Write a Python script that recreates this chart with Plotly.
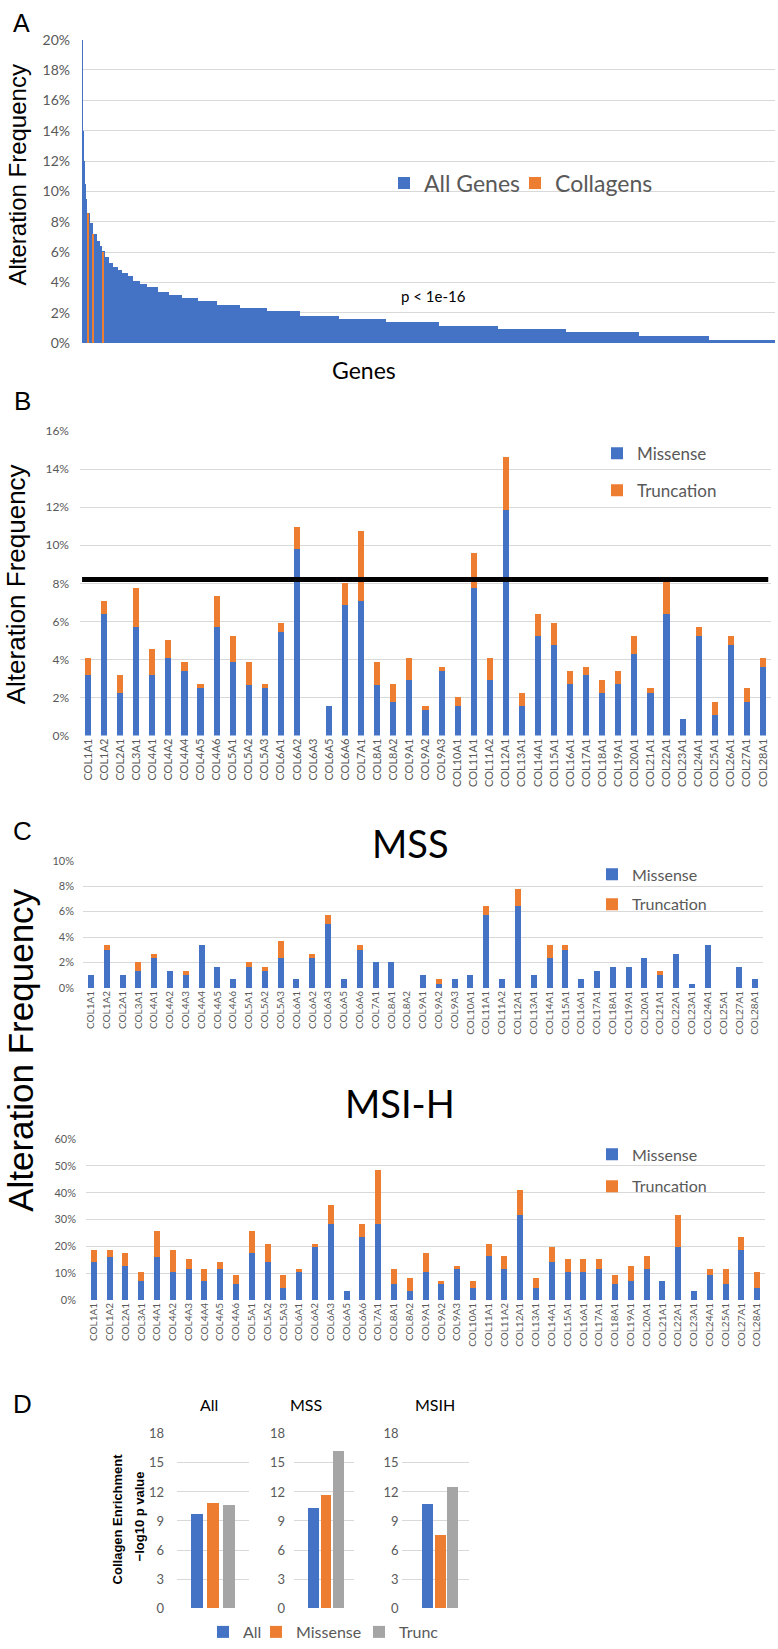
import plotly.graph_objects as go

W, H = 778, 1649
BLUE = "#4472C4"
ORANGE = "#ED7D31"
GRAY = "#A5A5A5"
GRID = "#D9D9D9"
TXT = "#595959"
TICKF = "Lato"
TITLEF = "Liberation Sans"

# ---------------- Panel A data (gene rank where each frequency level starts) ----------------
a_rank_start = [0, 10, 25, 40, 60, 90, 130, 200, 280, 400, 470, 520, 610, 715, 820, 935,
                1040, 1210, 1340, 1520, 1700, 1990, 2275, 2600, 3030, 3520, 4120, 4830,
                5690, 6690, 7930, 9320, 10850, 12620, 14520, 16350]
a_freq = [20.0, 16.0, 14.0, 12.0, 10.5, 9.5, 8.6, 7.9, 7.2, 6.7, 6.4, 6.1, 5.7, 5.3, 5.0, 4.8,
          4.6, 4.4, 4.1, 3.9, 3.7, 3.4, 3.2, 3.0, 2.8, 2.5, 2.3, 2.1,
          1.8, 1.6, 1.4, 1.1, 0.9, 0.7, 0.5, 0.2]
a_total_genes = 18070
collagen_rank = [138, 282, 527]
collagen_freq = [8.6, 7.2, 6.0]

# ---------------- Panel B data ----------------
genes_b = ["COL1A1", "COL1A2", "COL2A1", "COL3A1", "COL4A1", "COL4A2", "COL4A4", "COL4A5",
           "COL4A6", "COL5A1", "COL5A2", "COL5A3", "COL6A1", "COL6A2", "COL6A3", "COL6A5",
           "COL6A6", "COL7A1", "COL8A1", "COL8A2", "COL9A1", "COL9A2", "COL9A3", "COL10A1",
           "COL11A1", "COL11A2", "COL12A1", "COL13A1", "COL14A1", "COL15A1", "COL16A1",
           "COL17A1", "COL18A1", "COL19A1", "COL20A1", "COL21A1", "COL22A1", "COL23A1",
           "COL24A1", "COL25A1", "COL26A1", "COL27A1", "COL28A1"]
b_missense = [3.2, 6.37, 2.25, 5.68, 3.17, 4.07, 3.38, 2.48, 5.68, 3.84, 2.68, 2.48, 5.45,
              9.82, 0, 1.56, 6.84, 7.06, 2.68, 1.78, 2.94, 1.33, 3.38, 1.56, 7.76, 2.94,
              11.86, 1.56, 5.23, 4.78, 2.72, 3.17, 2.25, 2.72, 4.31, 2.25, 6.37, 0.87,
              5.23, 1.09, 4.78, 1.78, 3.62]
b_truncation = [0.89, 0.69, 0.92, 2.08, 1.37, 0.93, 0.46, 0.24, 1.63, 1.39, 1.16, 0.24, 0.47,
                1.14, 0, 0, 1.16, 3.68, 1.16, 0.94, 1.15, 0.23, 0.24, 0.47, 1.82, 1.15,
                2.77, 0.69, 1.16, 1.14, 0.69, 0.45, 0.69, 0.69, 0.92, 0.23, 1.73, 0,
                0.47, 0.69, 0.45, 0.73, 0.47]
b_threshold = 8.2

# ---------------- Panel C data ----------------
genes_c = ["COL1A1", "COL1A2", "COL2A1", "COL3A1", "COL4A1", "COL4A2", "COL4A3", "COL4A4",
           "COL4A5", "COL4A6", "COL5A1", "COL5A2", "COL5A3", "COL6A1", "COL6A2", "COL6A3",
           "COL6A5", "COL6A6", "COL7A1", "COL8A1", "COL8A2", "COL9A1", "COL9A2", "COL9A3",
           "COL10A1", "COL11A1", "COL11A2", "COL12A1", "COL13A1", "COL14A1", "COL15A1",
           "COL16A1", "COL17A1", "COL18A1", "COL19A1", "COL20A1", "COL21A1", "COL22A1",
           "COL23A1", "COL24A1", "COL25A1", "COL27A1", "COL28A1"]
mss_missense = [1.01, 3.0, 1.01, 1.35, 2.36, 1.35, 1.01, 3.37, 1.68, 0.67, 1.68, 1.35, 2.36,
                0.67, 2.36, 5.06, 0.67, 3.0, 2.02, 2.02, 0, 1.01, 0.33, 0.67, 1.01, 5.76,
                0.67, 6.43, 1.01, 2.36, 3.0, 0.67, 1.35, 1.68, 1.68, 2.36, 1.01, 2.69,
                0.33, 3.37, 0, 1.68, 0.67]
mss_truncation = [0, 0.37, 0, 0.67, 0.33, 0, 0.34, 0, 0, 0, 0.34, 0.33, 1.34, 0, 0.33, 0.70,
                  0, 0.37, 0, 0, 0, 0, 0.34, 0, 0, 0.67, 0, 1.38, 0, 1.01, 0.37, 0, 0, 0,
                  0, 0, 0.34, 0, 0, 0, 0, 0, 0]
msih_missense = [14.0, 16.2, 12.8, 6.9, 16.2, 10.5, 11.7, 6.9, 11.7, 5.8, 17.5, 14.0, 4.5,
                 10.5, 19.9, 28.2, 3.4, 23.4, 28.2, 5.8, 3.4, 10.5, 5.8, 11.7, 4.5, 16.3,
                 11.7, 31.7, 4.5, 14.0, 10.5, 10.5, 11.7, 5.8, 7.0, 11.7, 7.0, 19.9, 3.4,
                 9.3, 5.8, 18.7, 4.5]
msih_truncation = [4.7, 2.5, 4.8, 3.7, 9.6, 8.2, 3.5, 4.8, 2.3, 3.5, 8.3, 7.0, 4.8, 1.2, 1.1,
                   7.1, 0, 4.8, 20.1, 5.9, 4.7, 7.1, 1.2, 1.1, 2.5, 4.6, 4.6, 9.5, 3.6, 5.9,
                   4.7, 4.7, 3.5, 3.5, 5.8, 4.6, 0, 11.8, 0, 2.4, 5.9, 4.7, 6.1]

# ---------------- Panel D data ----------------
d_groups = ["All", "MSS", "MSIH"]
d_series = ["All", "Missense", "Trunc"]
d_all = [9.75, 10.3, 10.8]
d_missense = [10.9, 11.7, 7.6]
d_trunc = [10.6, 16.2, 12.55]


def fx(px):
    return px / W


def fy(py):
    return 1 - py / H


fig = go.Figure()

# ---- A ----
a_widths = [a_rank_start[i + 1] - a_rank_start[i] for i in range(len(a_rank_start) - 1)]
a_widths.append(a_total_genes - a_rank_start[-1])
fig.add_trace(go.Bar(x=a_rank_start, y=a_freq, width=a_widths, offset=0, name="All Genes",
                     marker=dict(color=BLUE, line=dict(width=0)), legendwidth=86,
                     xaxis="x", yaxis="y", legend="legend"))
fig.add_trace(go.Bar(x=collagen_rank, y=collagen_freq, width=35, offset=0, name="Collagens",
                     marker=dict(color=ORANGE, line=dict(width=0)),
                     xaxis="x", yaxis="y", legend="legend"))

# ---- B ----
fig.add_trace(go.Bar(x=genes_b, y=b_missense, name="Missense", marker=dict(color=BLUE, line=dict(width=0)),
                     xaxis="x2", yaxis="y2", legend="legend2", legendgroup="b1"))
fig.add_trace(go.Bar(x=genes_b, y=b_truncation, name="Truncation", marker=dict(color=ORANGE, line=dict(width=0)),
                     xaxis="x2", yaxis="y2", legend="legend2", legendgroup="b2"))

# ---- C MSS ----
fig.add_trace(go.Bar(x=genes_c, y=mss_missense, name="Missense", marker=dict(color=BLUE, line=dict(width=0)),
                     xaxis="x3", yaxis="y3", legend="legend3", legendgroup="c1"))
fig.add_trace(go.Bar(x=genes_c, y=mss_truncation, name="Truncation", marker=dict(color=ORANGE, line=dict(width=0)),
                     xaxis="x3", yaxis="y3", legend="legend3", legendgroup="c2"))

# ---- C MSI-H ----
fig.add_trace(go.Bar(x=genes_c, y=msih_missense, name="Missense", marker=dict(color=BLUE, line=dict(width=0)),
                     xaxis="x4", yaxis="y4", legend="legend4", legendgroup="m1"))
fig.add_trace(go.Bar(x=genes_c, y=msih_truncation, name="Truncation", marker=dict(color=ORANGE, line=dict(width=0)),
                     xaxis="x4", yaxis="y4", legend="legend4", legendgroup="m2"))

# ---- D ----
d_values = [d_all, d_missense, d_trunc]
d_colors = [BLUE, ORANGE, GRAY]
d_legw = [8, 58, None]
d_barw = [0.81, 0.84, 0.86]
for gi in range(len(d_groups)):
    for si, sname in enumerate(d_series):
        fig.add_trace(go.Bar(x=[si], y=[d_values[si][gi]], width=d_barw[gi], name=sname,
                             marker=dict(color=d_colors[si], line=dict(width=0)),
                             legendwidth=d_legw[si],
                             xaxis="x%d" % (5 + gi), yaxis="y%d" % (5 + gi),
                             legend="legend5", showlegend=(gi == 0)))


def yax(domain, rng, dtick, suffix, size, standoff, anchor):
    return dict(domain=domain, range=rng, dtick=dtick, ticksuffix=suffix,
                showgrid=True, gridcolor=GRID, gridwidth=1, zeroline=False, showline=False,
                ticks="", tickfont=dict(family=TICKF, size=size, color=TXT),
                ticklabelstandoff=standoff, anchor=anchor, fixedrange=True)


def xcat(domain, size, anchor):
    return dict(domain=domain, type="category", tickangle=-90, showgrid=False, zeroline=False,
                showline=False, ticks="", tickfont=dict(family=TICKF, size=size, color=TXT),
                anchor=anchor, fixedrange=True)


def xplain(domain, rng, anchor):
    return dict(domain=domain, range=rng, showticklabels=False, showgrid=False, zeroline=False,
                showline=False, ticks="", anchor=anchor, fixedrange=True)


layout = dict(
    width=W, height=H, autosize=False,
    margin=dict(l=0, r=0, t=0, b=0),
    paper_bgcolor="white", plot_bgcolor="white",
    barmode="stack", bargap=0.62,
    xaxis=xplain([fx(82), fx(775)], [0, a_total_genes], "y"),
    yaxis=yax([fy(338), fy(31)], [0, 20], 2, "%", 14, 11, "x"),
    xaxis2=xcat([fx(80), fx(771)], 11, "y2"),
    yaxis2=yax([fy(735), fy(427)], [0, 16], 2, "%", 12, 10, "x2"),
    xaxis3=xcat([fx(83), fx(763)], 10, "y3"),
    yaxis3=yax([fy(990.3), fy(861.7)], [0, 10], 2, "%", 11, 8, "x3"),
    xaxis4=xcat([fx(86), fx(765)], 10, "y4"),
    yaxis4=yax([fy(1306), fy(1143.3)], [0, 60], 10, "%", 11, 9, "x4"),
    xaxis5=xplain([fx(177), fx(249)], [-1.25, 3.25], "y5"),
    yaxis5=yax([fy(1617.7), fy(1441.5)], [0, 18], 3, "", 13, 12, "x5"),
    xaxis6=xplain([fx(294), fx(354)], [-1.54, 3.26], "y6"),
    yaxis6=yax([fy(1617.7), fy(1441.5)], [0, 18], 3, "", 13, 8, "x6"),
    xaxis7=xplain([fx(401.5), fx(469)], [-2.07, 3.29], "y7"),
    yaxis7=yax([fy(1617.7), fy(1441.5)], [0, 18], 3, "", 13, 2, "x7"),
    legend=dict(orientation="h", x=fx(384), y=fy(176), xanchor="left", yanchor="middle",
                font=dict(family=TICKF, size=23, color=TXT), bgcolor="rgba(0,0,0,0)",
                traceorder="normal"),
    legend2=dict(orientation="v", x=fx(597), y=fy(468.5), xanchor="left", yanchor="middle",
                 font=dict(family=TICKF, size=17, color=TXT), bgcolor="rgba(0,0,0,0)",
                 traceorder="grouped", tracegroupgap=12),
    legend3=dict(orientation="v", x=fx(592), y=fy(890.7), xanchor="left", yanchor="middle",
                 font=dict(family=TICKF, size=16, color=TXT), bgcolor="rgba(0,0,0,0)",
                 traceorder="grouped", tracegroupgap=6),
    legend4=dict(orientation="v", x=fx(592), y=fy(1175), xanchor="left", yanchor="middle",
                 font=dict(family=TICKF, size=16, color=TXT), bgcolor="rgba(0,0,0,0)",
                 traceorder="grouped", tracegroupgap=8),
    legend5=dict(orientation="h", x=fx(203), y=fy(1642), xanchor="left", yanchor="middle",
                 font=dict(family=TICKF, size=16, color=TXT), bgcolor="rgba(0,0,0,0)",
                 traceorder="normal"),
)
fig.update_layout(**layout)

# threshold line in panel B
fig.add_shape(type="line", xref="x2 domain", yref="y2", x0=0.003, x1=0.996,
              y0=b_threshold, y1=b_threshold, line=dict(color="black", width=5))


def ann(text, x, y, size, family=TITLEF, color="black", angle=0, weight="normal"):
    fig.add_annotation(text=text, xref="paper", yref="paper", x=fx(x), y=fy(y),
                       xanchor="center", yanchor="middle", showarrow=False, textangle=angle,
                       font=dict(family=family, size=size, color=color, weight=weight))


# panel letters
ann("A", 21, 14, 25)
ann("B", 22, 397, 26)
ann("C", 22, 832, 26)
ann("D", 22, 1411, 26)
# axis titles
ann("Alteration Frequency", 17.5, 168, 24, angle=-90)
ann("Alteration Frequency", 16, 582, 26, angle=-90)
ann("Alteration Frequency", 21, 1054, 35, angle=-90)
ann("Genes", 364, 365, 23, family=TICKF)
ann("p < 1e-16", 434, 290, 15, family=TICKF)
ann("MSS", 410, 844, 38, family=TICKF)
ann("MSI-H", 400, 1107, 38, family=TICKF)
# panel D titles
ann("All", 209, 1412, 16, family=TICKF)
ann("MSS", 306, 1412, 16, family=TICKF)
ann("MSIH", 435, 1412, 16, family=TICKF)
ann("Collagen Enrichment", 117, 1527, 13, angle=-90, weight="bold")
ann("\u2212log10 p value", 139, 1525, 13, angle=-90, weight="bold")

fig.write_html("out.html", config={"displayModeBar": False},
               post_script="document.documentElement.style.margin='0';document.body.style.margin='0';document.body.style.padding='0';")
